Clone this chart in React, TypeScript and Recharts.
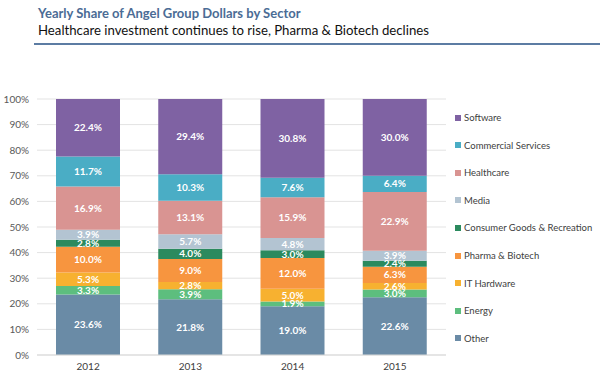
import React from "react";
import { BarChart, Bar, XAxis, YAxis, CartesianGrid, LabelList } from "recharts";

const years = ["2012", "2013", "2014", "2015"];
const other = [23.6, 21.8, 19.0, 22.6];
const energy = [3.3, 3.9, 1.9, 3.0];
const itHardware = [5.3, 2.8, 5.0, 2.6];
const pharma = [10.0, 9.0, 12.0, 6.3];
const consumer = [2.8, 4.0, 3.0, 2.4];
const media = [3.9, 5.7, 4.8, 3.9];
const healthcare = [16.9, 13.1, 15.9, 22.9];
const commercial = [11.7, 10.3, 7.6, 6.4];
const software = [22.4, 29.4, 30.8, 30.0];
const yTicks = [0, 0.1, 0.2, 0.3, 0.4, 0.5, 0.6, 0.7, 0.8, 0.9, 1];

// bottom of the stack first
const series = [
  { key: "other", name: "Other", color: "#6A8BA6", values: other },
  { key: "energy", name: "Energy", color: "#5DBE7E", values: energy },
  { key: "itHardware", name: "IT Hardware", color: "#F7B130", values: itHardware },
  { key: "pharma", name: "Pharma & Biotech", color: "#F7953F", values: pharma },
  { key: "consumer", name: "Consumer Goods & Recreation", color: "#2B8A5E", values: consumer },
  { key: "media", name: "Media", color: "#B3C4D2", values: media },
  { key: "healthcare", name: "Healthcare", color: "#D99492", values: healthcare },
  { key: "commercial", name: "Commercial Services", color: "#4AADC5", values: commercial },
  { key: "software", name: "Software", color: "#7F62A3", values: software },
];

const data = years.map((year, i) => {
  const row: Record<string, string | number> = { year };
  series.forEach((s) => {
    row[s.key] = s.values[i];
  });
  return row;
});

const font = "Lato, 'Open Sans', sans-serif";

export default function App() {
  return (
    <div
      style={{
        position: "absolute",
        left: 0,
        top: 0,
        width: 600,
        height: 377,
        background: "#fff",
        fontFamily: font,
      }}
    >
      <div
        style={{
          position: "absolute",
          left: 38,
          top: 5,
          fontSize: 13,
          fontWeight: 700,
          color: "#4B6C95",
          whiteSpace: "nowrap",
        }}
      >
        Yearly Share of Angel Group Dollars by Sector
      </div>
      <div
        style={{
          position: "absolute",
          left: 38,
          top: 22,
          fontSize: 13.2,
          color: "#111",
          whiteSpace: "nowrap",
        }}
      >
        Healthcare investment continues to rise, Pharma &amp; Biotech declines
      </div>
      <div
        style={{
          position: "absolute",
          left: 34,
          top: 43,
          width: 566,
          height: 2,
          background: "#5C7CA3",
        }}
      />
      <BarChart
        width={600}
        height={377}
        data={data}
        stackOffset="expand"
        margin={{ top: 99, right: 154, bottom: 0, left: 0 }}
        barSize={64}
        style={{ fontFamily: font }}
      >
        <CartesianGrid vertical={false} stroke="#E3E3E3" />
        <XAxis
          dataKey="year"
          height={22}
          axisLine={{ stroke: "#D9D9D9" }}
          tickLine={false}
          tick={{ fill: "#404040", fontSize: 10 }}
          tickMargin={2}
        />
        <YAxis
          width={37}
          domain={[0, 1]}
          ticks={yTicks}
          axisLine={false}
          tickLine={false}
          tick={{ fill: "#595959", fontSize: 10 }}
          tickFormatter={(v: number) => `${Math.round(v * 100)}%`}
        />
        {series.map((s) => (
          <Bar
            key={s.key}
            dataKey={s.key}
            name={s.name}
            stackId="a"
            fill={s.color}
            isAnimationActive={false}
          >
            <LabelList
              dataKey={s.key}
              position="center"
              fill="#fff"
              fontSize={10}
              fontWeight={700}
              formatter={(v: number) => `${Number(v).toFixed(1)}%`}
            />
          </Bar>
        ))}
      </BarChart>
      <div style={{ position: "absolute", left: 455, top: 112 }}>
        {[...series].reverse().map((s, i) => (
          <div
            key={s.key}
            style={{
              position: "absolute",
              top: i * 27.6,
              left: 0,
              display: "flex",
              alignItems: "center",
              whiteSpace: "nowrap",
              fontSize: 9.5,
              color: "#404040",
            }}
          >
            <span
              style={{
                display: "inline-block",
                width: 6,
                height: 6,
                background: s.color,
                marginRight: 3,
              }}
            />
            {s.name}
          </div>
        ))}
      </div>
    </div>
  );
}
